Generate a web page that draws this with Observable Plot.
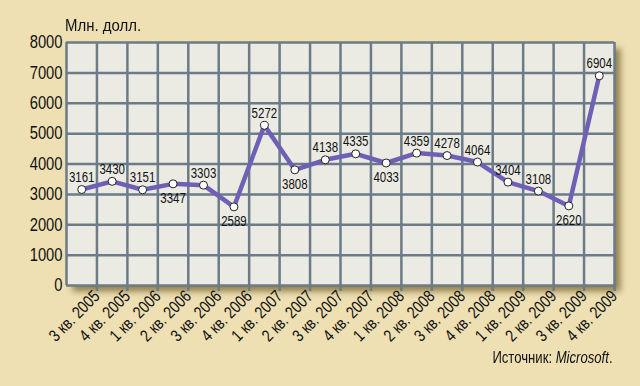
<!DOCTYPE html>
<html><head><meta charset="utf-8">
<script src="https://cdn.jsdelivr.net/npm/d3@7"></script>
<script src="https://cdn.jsdelivr.net/npm/@observablehq/plot@0.6"></script>
<style>
body{margin:0;background:#eee0b3;}
#wrap{position:relative;width:640px;height:386px;background:#eee0b3;font-family:"Liberation Sans",Arial,sans-serif;color:#111;}
#wrap svg{position:absolute;left:0;top:0;}
#title{position:absolute;left:65px;top:16px;font-size:17px;transform:scaleX(0.88);transform-origin:left top;white-space:nowrap;}
#src{position:absolute;right:27px;top:349px;font-size:16px;transform:scaleX(0.82);transform-origin:right top;white-space:nowrap;}
</style></head><body><div id="wrap"><div id="title">Млн. долл.</div><div id="src">Источник: <i>Microsoft</i>.</div></div>
<script>
const quarters = ["3 кв. 2005","4 кв. 2005","1 кв. 2006","2 кв. 2006","3 кв. 2006","4 кв. 2006","1 кв. 2007","2 кв. 2007","3 кв. 2007","4 кв. 2007","1 кв. 2008","2 кв. 2008","3 кв. 2008","4 кв. 2008","1 кв. 2009","2 кв. 2009","3 кв. 2009","4 кв. 2009"];
const revenue = [3161,3430,3151,3347,3303,2589,5272,3808,4138,4335,4033,4359,4278,4064,3404,3108,2620,6904];
const labelBelow = [false,false,false,true,false,true,false,true,false,false,true,false,false,false,false,false,true,false];
const yTicks = [0,1000,2000,3000,4000,5000,6000,7000,8000];

const data = quarters.map((q,i)=>({pos:i+0.5,q,v:revenue[i],below:labelBelow[i]}));
const gridColor = "#6b7b87";
const font = '"Liberation Sans",Arial,sans-serif';

const chart = Plot.plot({
  width:640,height:386,
  marginLeft:66,marginRight:26,marginTop:42,marginBottom:101,
  style:{background:"transparent",fontFamily:font,color:"#111",overflow:"visible"},
  x:{domain:[0,quarters.length],axis:null},
  y:{domain:[0,8000],axis:null},
  marks:[
    Plot.frame({fill:"#8a7645",fillOpacity:0.9,dx:6,dy:6,ariaLabel:"shadow"}),
    Plot.frame({fill:"#ebeae3"}),
    Plot.gridX(d3.range(0,quarters.length+1),{stroke:gridColor,strokeWidth:2.5,strokeOpacity:1}),
    Plot.gridY(yTicks,{stroke:gridColor,strokeWidth:2.5,strokeOpacity:1}),
    Plot.axisX(d3.range(1,quarters.length+1),{tickFormat:d=>quarters[d-1],tickRotate:-45,tickSize:6,stroke:gridColor,strokeWidth:2.5,fontSize:17,tickPadding:2,fill:"#111",label:null}),
    Plot.axisY(yTicks,{tickSize:0,tickPadding:4,fontSize:18,tickFormat:d=>String(d),fill:"#111",label:null}),
    Plot.line(data,{x:"pos",y:"v",stroke:"#6e60b5",strokeWidth:4.5}),
    Plot.dot(data,{x:"pos",y:"v",r:4,fill:"white",stroke:"#222",strokeWidth:1}),
    Plot.text(data.filter(d=>!d.below),{x:"pos",y:"v",text:d=>String(d.v),dy:-12,fontSize:14,fill:"#111"}),
    Plot.text(data.filter(d=>d.below),{x:"pos",y:"v",text:d=>String(d.v),dy:15,fontSize:14,fill:"#111"})
  ]
});
const shadow = chart.querySelector('[aria-label="shadow"]');
if (shadow) shadow.style.filter = "blur(3px)";
// narrow the typeface to mimic a condensed Helvetica
chart.querySelectorAll("text").forEach(t => {
  const tr = t.getAttribute("transform") || "";
  const xs = parseFloat(t.getAttribute("x"));
  const x = Number.isFinite(xs) ? xs : 0;
  t.setAttribute("transform", `${tr} translate(${x},0) scale(0.82,1) translate(${-x},0)`.trim());
});
document.getElementById("wrap").prepend(chart);
</script>
</body></html>
